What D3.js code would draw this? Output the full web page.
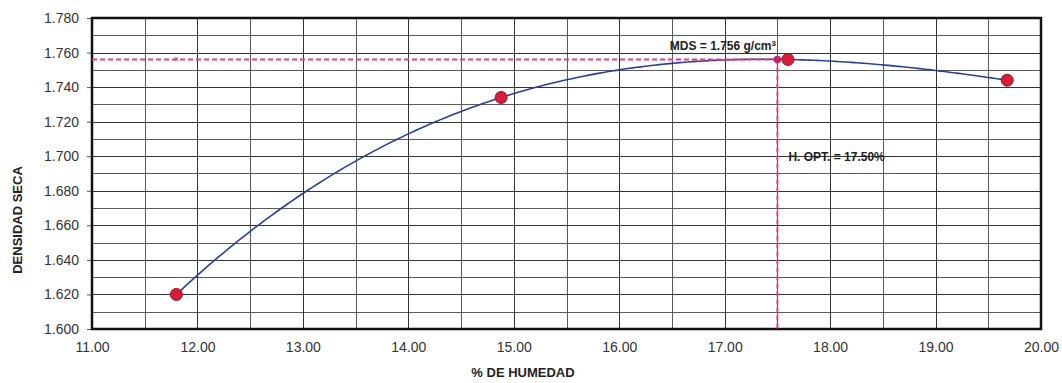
<!DOCTYPE html>
<html>
<head>
<meta charset="utf-8">
<script src="https://cdn.jsdelivr.net/npm/d3@7/dist/d3.min.js"></script>
<style>
  html, body { margin: 0; padding: 0; background: #fff; }
  svg { display: block; font-family: "Liberation Sans", Arial, sans-serif; }
</style>
</head>
<body>
<svg id="chart" width="1062" height="383"></svg>
<script>
// Compaction test: moisture content (%) vs dry density (g/cm3)
const humedad = [11.80, 14.88, 17.60, 19.68];
const densidad = [1.620, 1.734, 1.756, 1.744];
const xTicks = [11, 12, 13, 14, 15, 16, 17, 18, 19, 20];
const yTicks = [1.600, 1.620, 1.640, 1.660, 1.680, 1.700, 1.720, 1.740, 1.760, 1.780];
const optHumedad = 17.50;
const maxDensidad = 1.756;

const svg = d3.select("#chart");
const margin = { left: 92, right: 21, top: 18, bottom: 54 };
const W = 1062, H = 383;

const x = d3.scaleLinear().domain([11, 20]).range([margin.left, W - margin.right]);
const y = d3.scaleLinear().domain([1.600, 1.780]).range([H - margin.bottom, margin.top]);

// minor grid
const g = svg.append("g");
g.selectAll("line.vminor").data(d3.range(11.5, 20, 1)).join("line")
  .attr("x1", d => Math.round(x(d)) + 0.5).attr("x2", d => Math.round(x(d)) + 0.5)
  .attr("y1", y(1.600)).attr("y2", y(1.780))
  .attr("stroke", "#5a5a5a").attr("stroke-width", 1);
g.selectAll("line.hminor").data(d3.range(1.610, 1.780, 0.020)).join("line")
  .attr("x1", x(11)).attr("x2", x(20))
  .attr("y1", d => Math.round(y(d)) + 0.5).attr("y2", d => Math.round(y(d)) + 0.5)
  .attr("stroke", "#5a5a5a").attr("stroke-width", 1);
// major grid
g.selectAll("line.vmajor").data(xTicks).join("line")
  .attr("x1", d => Math.round(x(d)) + 0.5).attr("x2", d => Math.round(x(d)) + 0.5)
  .attr("y1", y(1.600)).attr("y2", y(1.780))
  .attr("stroke", "#333").attr("stroke-width", 1);
g.selectAll("line.hmajor").data(yTicks).join("line")
  .attr("x1", x(11)).attr("x2", x(20))
  .attr("y1", d => Math.round(y(d)) + 0.5).attr("y2", d => Math.round(y(d)) + 0.5)
  .attr("stroke", "#333").attr("stroke-width", 1);

// axes
const xAxis = d3.axisBottom(x).tickValues(xTicks).tickFormat(d3.format(".2f")).tickSize(0).tickPadding(13);
const yAxis = d3.axisLeft(y).tickValues(yTicks).tickFormat(d3.format(".3f")).tickSize(5).tickPadding(8);
const gx = svg.append("g").attr("transform", `translate(0,${y(1.600)})`).call(xAxis);
const gy = svg.append("g").attr("transform", `translate(${x(11)},0)`).call(yAxis);
[gx, gy].forEach(a => {
  a.select(".domain").remove();
  a.selectAll("text").attr("font-size", 14).attr("fill", "#333").attr("font-family", "Liberation Sans, Arial, sans-serif");
  a.selectAll(".tick line").attr("stroke", "#555");
});

// plot frame
svg.append("rect")
  .attr("x", x(11)).attr("y", y(1.780))
  .attr("width", x(20) - x(11)).attr("height", y(1.600) - y(1.780))
  .attr("fill", "none").attr("stroke", "#111").attr("stroke-width", 2.5);

// cubic curve through the four test points
function lagrange(xs, ys, t) {
  let s = 0;
  for (let i = 0; i < xs.length; i++) {
    let p = ys[i];
    for (let j = 0; j < xs.length; j++) if (j !== i) p *= (t - xs[j]) / (xs[i] - xs[j]);
    s += p;
  }
  return s;
}
const tt = d3.range(humedad[0], humedad[3] + 0.001, 0.05);
const curve = tt.map(t => [t, lagrange(humedad, densidad, t)]);
svg.append("path")
  .datum(curve)
  .attr("fill", "none").attr("stroke", "#2a4098").attr("stroke-width", 1.6)
  .attr("d", d3.line().x(d => x(d[0])).y(d => y(d[1])).curve(d3.curveBasis));

// reference lines for optimum moisture / maximum dry density
svg.append("line")
  .attr("x1", x(11)).attr("x2", x(optHumedad))
  .attr("y1", y(maxDensidad)).attr("y2", y(maxDensidad))
  .attr("stroke", "#e0407c").attr("stroke-width", 2).attr("stroke-dasharray", "5,3");
svg.append("line")
  .attr("x1", x(optHumedad)).attr("x2", x(optHumedad))
  .attr("y1", y(maxDensidad)).attr("y2", y(1.600))
  .attr("stroke", "#e0407c").attr("stroke-width", 2).attr("stroke-dasharray", "5,3");
svg.append("text")
  .attr("x", x(11.8)).attr("y", y(maxDensidad) + 3)
  .attr("text-anchor", "middle").attr("font-size", 9).attr("fill", "#8a3a8a").text("×");

// data points
svg.selectAll("circle.pt").data(humedad.map((h, i) => [h, densidad[i]])).join("circle")
  .attr("cx", d => x(d[0])).attr("cy", d => y(d[1])).attr("r", 6)
  .attr("fill", "#d41e3a").attr("stroke", "#a0102a").attr("stroke-width", 1);
svg.append("circle")
  .attr("cx", x(optHumedad)).attr("cy", y(maxDensidad)).attr("r", 3.8)
  .attr("fill", "#c8246a");

// annotations
const mds = svg.append("text")
  .attr("x", x(16.48)).attr("y", y(1.7615))
  .attr("font-size", 12).attr("font-weight", "bold").attr("fill", "#222");
mds.append("tspan").text(`MDS = ${d3.format(".3f")(maxDensidad)} g/cm`);
mds.append("tspan").attr("font-size", 8).attr("dy", -4).text("3");

svg.append("text")
  .attr("x", x(optHumedad) + 11).attr("y", y(1.697))
  .attr("font-size", 12).attr("font-weight", "bold").attr("fill", "#222")
  .text(`H. OPT. = ${d3.format(".2f")(optHumedad)}%`);

// axis titles
svg.append("text")
  .attr("x", 523).attr("y", 377).attr("text-anchor", "middle")
  .attr("font-size", 13).attr("font-weight", "bold").attr("fill", "#222")
  .text("% DE HUMEDAD");
svg.append("text")
  .attr("transform", "translate(22,220) rotate(-90)").attr("text-anchor", "middle")
  .attr("font-size", 13).attr("font-weight", "bold").attr("fill", "#222")
  .text("DENSIDAD SECA");
</script>
</body>
</html>
